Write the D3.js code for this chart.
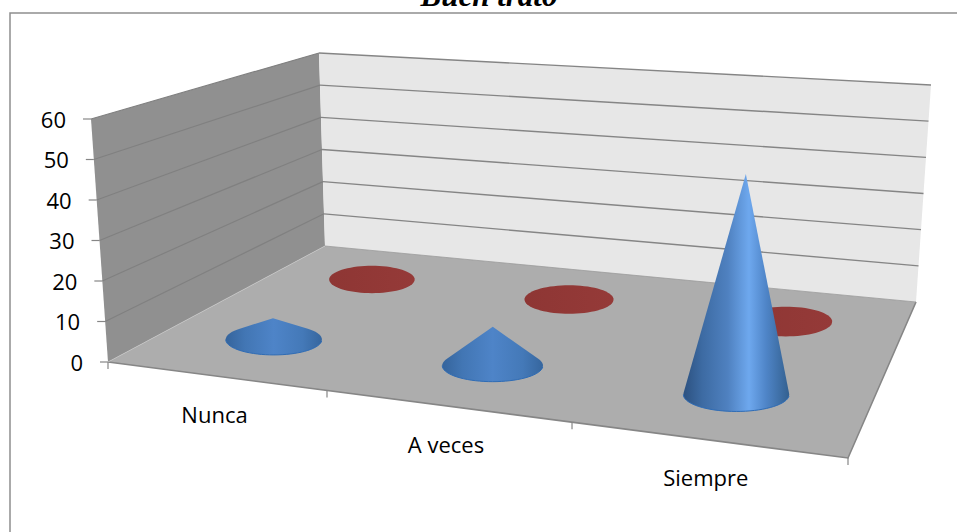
<!DOCTYPE html>
<html>
<head>
<meta charset="utf-8">
<script src="https://cdn.jsdelivr.net/npm/d3@7"></script>
<style>
  html, body { margin: 0; background: #fff; }
  svg { display: block; }
  text { font-family: "Open Sans", sans-serif; fill: #000; }
</style>
</head>
<body>
<svg id="chart" width="957" height="532"></svg>
<script>
const categories = ["Nunca", "A veces", "Siempre"];
const seriesNames = ["Serie 1", "Serie 2"];
const frontValues = [5.5, 9.5, 51.5];
const backValues = [0, 0, 0];
const valueTicks = [0, 10, 20, 30, 40, 50, 60];
const titleText = "Buen trato";

const svg = d3.select("#chart");

// Corners of the 3D box on screen
const floorQuad = [[108, 362], [848, 458], [916, 302], [325, 246]];
const ceilQuad = [[91, 119], [865, 174], [931, 85], [319, 53]];

// Unit square to quadrilateral projective map
function quadMap(q) {
  const [[x0, y0], [x1, y1], [x2, y2], [x3, y3]] = q;
  const dx1 = x1 - x2, dx2 = x3 - x2, sx = x0 - x1 + x2 - x3;
  const dy1 = y1 - y2, dy2 = y3 - y2, sy = y0 - y1 + y2 - y3;
  const den = dx1 * dy2 - dx2 * dy1;
  const g = (sx * dy2 - dx2 * sy) / den;
  const h = (dx1 * sy - sx * dy1) / den;
  const a = x1 - x0 + g * x1, b = x3 - x0 + h * x3;
  const d = y1 - y0 + g * y1, e = y3 - y0 + h * y3;
  return (u, v) => {
    const w = g * u + h * v + 1;
    return [(a * u + b * v + x0) / w, (d * u + e * v + y0) / w];
  };
}
const floorMap = quadMap(floorQuad);
const ceilMap = quadMap(ceilQuad);

const xScale = d3.scaleBand().domain(categories).range([0, 1]);
const zScale = d3.scalePoint().domain(seriesNames).range([0.25, 0.75]);
const yScale = d3.scaleLinear().domain([0, 60]).range([0, 1]);

function project(u, v, value) {
  const f = floorMap(u, v), c = ceilMap(u, v), t = yScale(value);
  return [f[0] + (c[0] - f[0]) * t, f[1] + (c[1] - f[1]) * t];
}

const lineGen = d3.line();

// Outer frame, open at the bottom
svg.append("path")
  .attr("d", "M10,532V13H957")
  .attr("fill", "none").attr("stroke", "#8e8e8e").attr("stroke-width", 1.5);

svg.append("text")
  .attr("x", 489).attr("y", 6)
  .attr("text-anchor", "middle")
  .style("font-family", "'Liberation Serif', serif")
  .style("font-weight", "bold").style("font-style", "italic")
  .style("font-size", "31px")
  .text(titleText);

// Side wall, back wall, floor
const sideWall = [project(0, 0, 0), project(0, 1, 0), project(0, 1, 60), project(0, 0, 60)];
const backWall = [project(0, 1, 0), project(1, 1, 0), project(1, 1, 60), project(0, 1, 60)];
const floorFace = [project(0, 0, 0), project(1, 0, 0), project(1, 1, 0), project(0, 1, 0)];
svg.append("path").attr("d", lineGen(sideWall) + "Z").attr("fill", "#909090");
svg.append("path").attr("d", lineGen(backWall) + "Z").attr("fill", "#e7e7e7");
svg.append("path").attr("d", lineGen(floorFace) + "Z").attr("fill", "#adadad");

// Gridlines run along both walls
valueTicks.filter(d => d > 0).forEach(d => {
  svg.append("path")
    .attr("d", lineGen([project(0, 0, d), project(0, 1, d)]))
    .attr("fill", "none").attr("stroke", "#808080").attr("stroke-width", 1.2);
  svg.append("path")
    .attr("d", lineGen([project(0, 1, d), project(1, 1, d)]))
    .attr("fill", "none").attr("stroke", "#858585").attr("stroke-width", 1.4);
});

// Floor edges
svg.append("path")
  .attr("d", lineGen([project(0, 0, 0), project(1, 0, 0), project(1, 1, 0)]))
  .attr("fill", "none").attr("stroke", "#868686").attr("stroke-width", 1.6);
svg.append("path")
  .attr("d", lineGen([project(0, 1, 0), project(1, 1, 0)]))
  .attr("fill", "none").attr("stroke", "#9a9a9a").attr("stroke-width", 0.8);
svg.append("path")
  .attr("d", lineGen([project(0, 0, 0), project(0, 1, 0)]))
  .attr("fill", "none").attr("stroke", "#c4c4c4").attr("stroke-width", 0.8);

// Value axis ticks and labels
valueTicks.forEach(d => {
  const p = project(0, 0, d);
  svg.append("line")
    .attr("x1", p[0] - 8).attr("x2", p[0]).attr("y1", p[1]).attr("y2", p[1])
    .attr("stroke", "#868686").attr("stroke-width", 1.2);
  svg.append("text")
    .attr("x", p[0] - 25).attr("y", p[1] + 3)
    .attr("text-anchor", "end").attr("dominant-baseline", "middle")
    .style("font-size", "22px")
    .text(d);
});

// Category ticks and labels along the front edge
d3.range(categories.length + 1).forEach(i => {
  const p = project(i / categories.length, 0, 0);
  svg.append("line")
    .attr("x1", p[0]).attr("x2", p[0]).attr("y1", p[1]).attr("y2", p[1] + 7)
    .attr("stroke", "#868686").attr("stroke-width", 1.2);
});
categories.forEach(c => {
  const p = project(xScale(c) + xScale.bandwidth() / 2, 0, 0);
  svg.append("text")
    .attr("x", p[0]).attr("y", p[1] + 41)
    .attr("text-anchor", "middle").attr("dominant-baseline", "middle")
    .style("font-size", "22px")
    .text(c);
});

// Cone shading: a bright streak on tall cones, softer on short ones
const defs = svg.append("defs");
function addGradient(id, stops) {
  const g = defs.append("linearGradient").attr("id", id);
  stops.forEach(([o, c]) => g.append("stop").attr("offset", o).attr("stop-color", c));
}
addGradient("coneTall", [[0, "#2c5180"], [0.18, "#3d6ba3"], [0.42, "#4f81c0"], [0.62, "#6ea8ee"], [0.78, "#4f85c8"], [1, "#33608f"]]);
addGradient("coneShort", [[0, "#35649c"], [0.2, "#4276b4"], [0.5, "#4e84c8"], [0.8, "#4479b8"], [1, "#36669e"]]);
addGradient("coneRed", [[0, "#8e3634"], [1, "#953a38"]]);

// Base ellipses stay level on screen and scale with the local wall height
const baseWidthRatio = 0.206, baseAspect = 0.32;
const angles = d3.range(0, 360, 5).map(a => a * Math.PI / 180);

function drawCone(category, seriesName, value, fill, rim) {
  const cu = xScale(category) + xScale.bandwidth() / 2;
  const cv = zScale(seriesName);
  const c = project(cu, cv, 0);
  const top = project(cu, cv, 60);
  const rx = baseWidthRatio * (c[1] - top[1]);
  const ry = rx * baseAspect;
  const base = angles.map(a => [c[0] + rx * Math.cos(a), c[1] + ry * Math.sin(a)]);
  const tip = project(cu, cv, value);
  const hull = d3.polygonHull(value > 0 ? base.concat([tip]) : base);
  svg.append("path").attr("d", lineGen(hull) + "Z").attr("fill", fill);
  if (value > 0) {
    const front = angles
      .filter(a => Math.sin(a) > 0)
      .map(a => [c[0] + rx * Math.cos(a), c[1] + ry * Math.sin(a)]);
    svg.append("path").attr("d", lineGen(front))
      .attr("fill", "none").attr("stroke", rim).attr("stroke-width", 1);
  }
}

categories.forEach((c, i) => drawCone(c, seriesNames[1], backValues[i], "url(#coneRed)", "#7d2d2b"));
categories.forEach((c, i) => drawCone(c, seriesNames[0], frontValues[i],
  frontValues[i] > 20 ? "url(#coneTall)" : "url(#coneShort)", "#2f6cb5"));
</script>
</body>
</html>
